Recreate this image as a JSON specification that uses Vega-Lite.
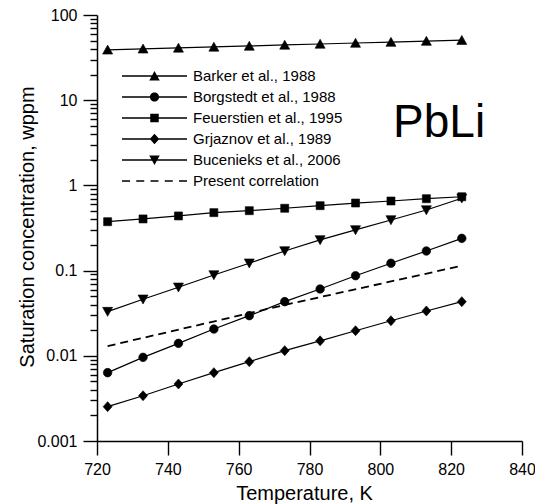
{
  "$schema": "https://vega.github.io/schema/vega-lite/v6.json",
  "autosize": "none",
  "width": 425,
  "height": 426,
  "padding": {"left": 97, "top": 15, "right": 13, "bottom": 63},
  "background": "white",
  "config": {"view": {"stroke": null}, "font": "Liberation Sans"},
  "datasets": {
    "meas": [
      {"series": "Barker et al., 1988", "T": 723, "c": 39.0},
      {"series": "Barker et al., 1988", "T": 733, "c": 40.1},
      {"series": "Barker et al., 1988", "T": 743, "c": 41.1},
      {"series": "Barker et al., 1988", "T": 753, "c": 42.2},
      {"series": "Barker et al., 1988", "T": 763, "c": 43.3},
      {"series": "Barker et al., 1988", "T": 773, "c": 44.5},
      {"series": "Barker et al., 1988", "T": 783, "c": 45.7},
      {"series": "Barker et al., 1988", "T": 793, "c": 46.9},
      {"series": "Barker et al., 1988", "T": 803, "c": 48.1},
      {"series": "Barker et al., 1988", "T": 813, "c": 49.4},
      {"series": "Barker et al., 1988", "T": 823, "c": 50.7},
      {"series": "Borgstedt et al., 1988", "T": 723, "c": 0.00634},
      {"series": "Borgstedt et al., 1988", "T": 733, "c": 0.00959},
      {"series": "Borgstedt et al., 1988", "T": 743, "c": 0.0140},
      {"series": "Borgstedt et al., 1988", "T": 753, "c": 0.0206},
      {"series": "Borgstedt et al., 1988", "T": 763, "c": 0.0296},
      {"series": "Borgstedt et al., 1988", "T": 773, "c": 0.0432},
      {"series": "Borgstedt et al., 1988", "T": 783, "c": 0.0608},
      {"series": "Borgstedt et al., 1988", "T": 793, "c": 0.0871},
      {"series": "Borgstedt et al., 1988", "T": 803, "c": 0.122},
      {"series": "Borgstedt et al., 1988", "T": 813, "c": 0.170},
      {"series": "Borgstedt et al., 1988", "T": 823, "c": 0.239},
      {"series": "Feuerstien et al., 1995", "T": 723, "c": 0.375},
      {"series": "Feuerstien et al., 1995", "T": 733, "c": 0.404},
      {"series": "Feuerstien et al., 1995", "T": 743, "c": 0.438},
      {"series": "Feuerstien et al., 1995", "T": 753, "c": 0.479},
      {"series": "Feuerstien et al., 1995", "T": 763, "c": 0.505},
      {"series": "Feuerstien et al., 1995", "T": 773, "c": 0.539},
      {"series": "Feuerstien et al., 1995", "T": 783, "c": 0.578},
      {"series": "Feuerstien et al., 1995", "T": 793, "c": 0.621},
      {"series": "Feuerstien et al., 1995", "T": 803, "c": 0.656},
      {"series": "Feuerstien et al., 1995", "T": 813, "c": 0.698},
      {"series": "Feuerstien et al., 1995", "T": 823, "c": 0.736},
      {"series": "Grjaznov et al., 1989", "T": 723, "c": 0.00253},
      {"series": "Grjaznov et al., 1989", "T": 733, "c": 0.00340},
      {"series": "Grjaznov et al., 1989", "T": 743, "c": 0.00467},
      {"series": "Grjaznov et al., 1989", "T": 753, "c": 0.00634},
      {"series": "Grjaznov et al., 1989", "T": 763, "c": 0.00853},
      {"series": "Grjaznov et al., 1989", "T": 773, "c": 0.0115},
      {"series": "Grjaznov et al., 1989", "T": 783, "c": 0.0150},
      {"series": "Grjaznov et al., 1989", "T": 793, "c": 0.0197},
      {"series": "Grjaznov et al., 1989", "T": 803, "c": 0.0258},
      {"series": "Grjaznov et al., 1989", "T": 813, "c": 0.0336},
      {"series": "Grjaznov et al., 1989", "T": 823, "c": 0.0432},
      {"series": "Bucenieks et al., 2006", "T": 723, "c": 0.0330},
      {"series": "Bucenieks et al., 2006", "T": 733, "c": 0.0461},
      {"series": "Bucenieks et al., 2006", "T": 743, "c": 0.0637},
      {"series": "Bucenieks et al., 2006", "T": 753, "c": 0.0888},
      {"series": "Bucenieks et al., 2006", "T": 763, "c": 0.122},
      {"series": "Bucenieks et al., 2006", "T": 773, "c": 0.170},
      {"series": "Bucenieks et al., 2006", "T": 783, "c": 0.229},
      {"series": "Bucenieks et al., 2006", "T": 793, "c": 0.300},
      {"series": "Bucenieks et al., 2006", "T": 803, "c": 0.393},
      {"series": "Bucenieks et al., 2006", "T": 813, "c": 0.514},
      {"series": "Bucenieks et al., 2006", "T": 823, "c": 0.706}
    ],
    "corr": [
      {"series": "Present correlation", "T": 723, "c": 0.0130},
      {"series": "Present correlation", "T": 773, "c": 0.0395},
      {"series": "Present correlation", "T": 823, "c": 0.114}
    ],
    "label": [{"text": "PbLi"}]
  },
  "layer": [
    {
      "data": {"name": "meas"},
      "mark": {"type": "line", "color": "black", "strokeWidth": 1.2},
      "encoding": {
        "x": {
          "field": "T", "type": "quantitative",
          "scale": {"domain": [720, 840], "nice": false, "zero": false},
          "axis": {
            "orient": "bottom",
            "values": [720, 730, 740, 750, 760, 770, 780, 790, 800, 810, 820, 830, 840],
            "labelExpr": "datum.value % 20 === 0 ? datum.label : ''",
            "grid": false,
            "tickSize": {"condition": {"test": "datum.value % 20 === 0", "value": 14}, "value": 7},
            "tickWidth": 1.4, "tickColor": "black",
            "domainColor": "black", "domainWidth": 1.5,
            "labelFont": "Liberation Sans", "labelFontSize": 16, "labelColor": "black",
            "labelPadding": 6, "labelFlush": false, "labelOverlap": false,
            "title": "Temperature, K",
            "titleFont": "Liberation Sans", "titleFontSize": 20, "titleFontWeight": "normal", "titleColor": "black",
            "titleX": 207, "titleY": 58, "titleBaseline": "alphabetic", "titleAlign": "center"
          }
        },
        "y": {
          "field": "c", "type": "quantitative",
          "scale": {"type": "log", "domain": [0.001, 100], "nice": false},
          "axis": {
            "orient": "left",
            "values": [0.001, 0.002, 0.003, 0.004, 0.005, 0.006, 0.007, 0.008, 0.009, 0.01, 0.02, 0.03, 0.04, 0.05, 0.06, 0.07, 0.08, 0.09, 0.1, 0.2, 0.3, 0.4, 0.5, 0.6, 0.7, 0.8, 0.9, 1, 2, 3, 4, 5, 6, 7, 8, 9, 10, 20, 30, 40, 50, 60, 70, 80, 90, 100],
            "format": "~g",
            "labelExpr": "abs(log(datum.value)/LN10 - round(log(datum.value)/LN10)) < 0.000001 ? datum.label : ''",
            "grid": false,
            "tickSize": {"condition": {"test": "abs(log(datum.value)/LN10 - round(log(datum.value)/LN10)) < 0.000001", "value": 14}, "value": 7},
            "tickWidth": 1.4, "tickColor": "black",
            "domainColor": "black", "domainWidth": 1.5,
            "labelFont": "Liberation Sans", "labelFontSize": 16, "labelColor": "black",
            "labelPadding": 6, "labelFlush": false, "labelOverlap": false,
            "title": "Saturation concentration, wppm",
            "titleFont": "Liberation Sans", "titleFontSize": 20, "titleFontWeight": "normal", "titleColor": "black",
            "titleAngle": 270, "titleX": -64, "titleY": 211.5, "titleBaseline": "alphabetic", "titleAlign": "center"
          }
        },
        "detail": {"field": "series"}
      }
    },
    {
      "data": {"name": "corr"},
      "mark": {"type": "line", "color": "black", "strokeWidth": 1.8, "strokeDash": [8, 5]},
      "encoding": {
        "x": {"field": "T", "type": "quantitative"},
        "y": {"field": "c", "type": "quantitative"}
      }
    },
    {
      "data": {"name": "meas"},
      "mark": {"type": "point", "filled": true, "color": "black", "opacity": 1, "size": 100, "stroke": "black", "strokeWidth": 0.6},
      "encoding": {
        "x": {"field": "T", "type": "quantitative"},
        "y": {"field": "c", "type": "quantitative"},
        "shape": {
          "field": "series", "type": "nominal",
          "scale": {
            "domain": ["Barker et al., 1988", "Borgstedt et al., 1988", "Feuerstien et al., 1995", "Grjaznov et al., 1989", "Bucenieks et al., 2006"],
            "range": [
              "M0,-0.95L1,0.85L-1,0.85Z",
              "M-0.86,0A0.86,0.86 0 1,1 0.86,0A0.86,0.86 0 1,1 -0.86,0Z",
              "M-0.8,-0.8H0.8V0.8H-0.8Z",
              "M0,-1L0.9,0L0,1L-0.9,0Z",
              "M-1,-0.85L1,-0.85L0,0.95Z"
            ]
          },
          "legend": null
        }
      }
    },
    {
      "data": {"name": "meas"},
      "transform": [{"filter": "false"}],
      "mark": {"type": "point", "filled": true, "color": "black", "opacity": 1, "size": 100},
      "encoding": {
        "shape": {
          "field": "series", "type": "nominal",
          "scale": {
            "domain": ["Barker et al., 1988", "Borgstedt et al., 1988", "Feuerstien et al., 1995", "Grjaznov et al., 1989", "Bucenieks et al., 2006", "Present correlation"],
            "range": [
              "M-1,-0.13H12V0.13H-1ZM5.5,-1L6.55,0.9L4.45,0.9Z",
              "M-1,-0.13H12V0.13H-1ZM4.58,0A0.92,0.92 0 1,1 6.42,0A0.92,0.92 0 1,1 4.58,0Z",
              "M-1,-0.13H12V0.13H-1ZM4.65,-0.85H6.35V0.85H4.65Z",
              "M-1,-0.13H12V0.13H-1ZM5.5,-1.05L6.45,0L5.5,1.05L4.55,0Z",
              "M-1,-0.13H12V0.13H-1ZM4.45,-0.9L6.55,-0.9L5.5,1Z",
              "M-1,-0.17H0.6V0.17H-1ZM1.85,-0.17H3.45V0.17H1.85ZM4.7,-0.17H6.3V0.17H4.7ZM7.55,-0.17H9.15V0.17H7.55ZM10.4,-0.17H12V0.17H10.4Z"
            ]
          },
          "legend": {
            "orient": "none", "legendX": 22.5, "legendY": 50.5,
            "title": null, "padding": 0,
            "labelFont": "Liberation Sans", "labelFontSize": 15, "labelColor": "black",
            "labelOffset": 58.5, "clipHeight": 21, "rowPadding": 0,
            "symbolSize": 100, "symbolFillColor": "black", "symbolOpacity": 1
          }
        }
      }
    },
    {
      "data": {"name": "label"},
      "mark": {"type": "text", "font": "Liberation Sans", "fontSize": 46, "color": "black", "align": "center", "baseline": "alphabetic"},
      "encoding": {
        "x": {"datum": 816.6, "type": "quantitative"},
        "y": {"datum": 3.73, "type": "quantitative"},
        "text": {"field": "text"}
      }
    }
  ],
  "resolve": {"scale": {"shape": "independent"}}
}
